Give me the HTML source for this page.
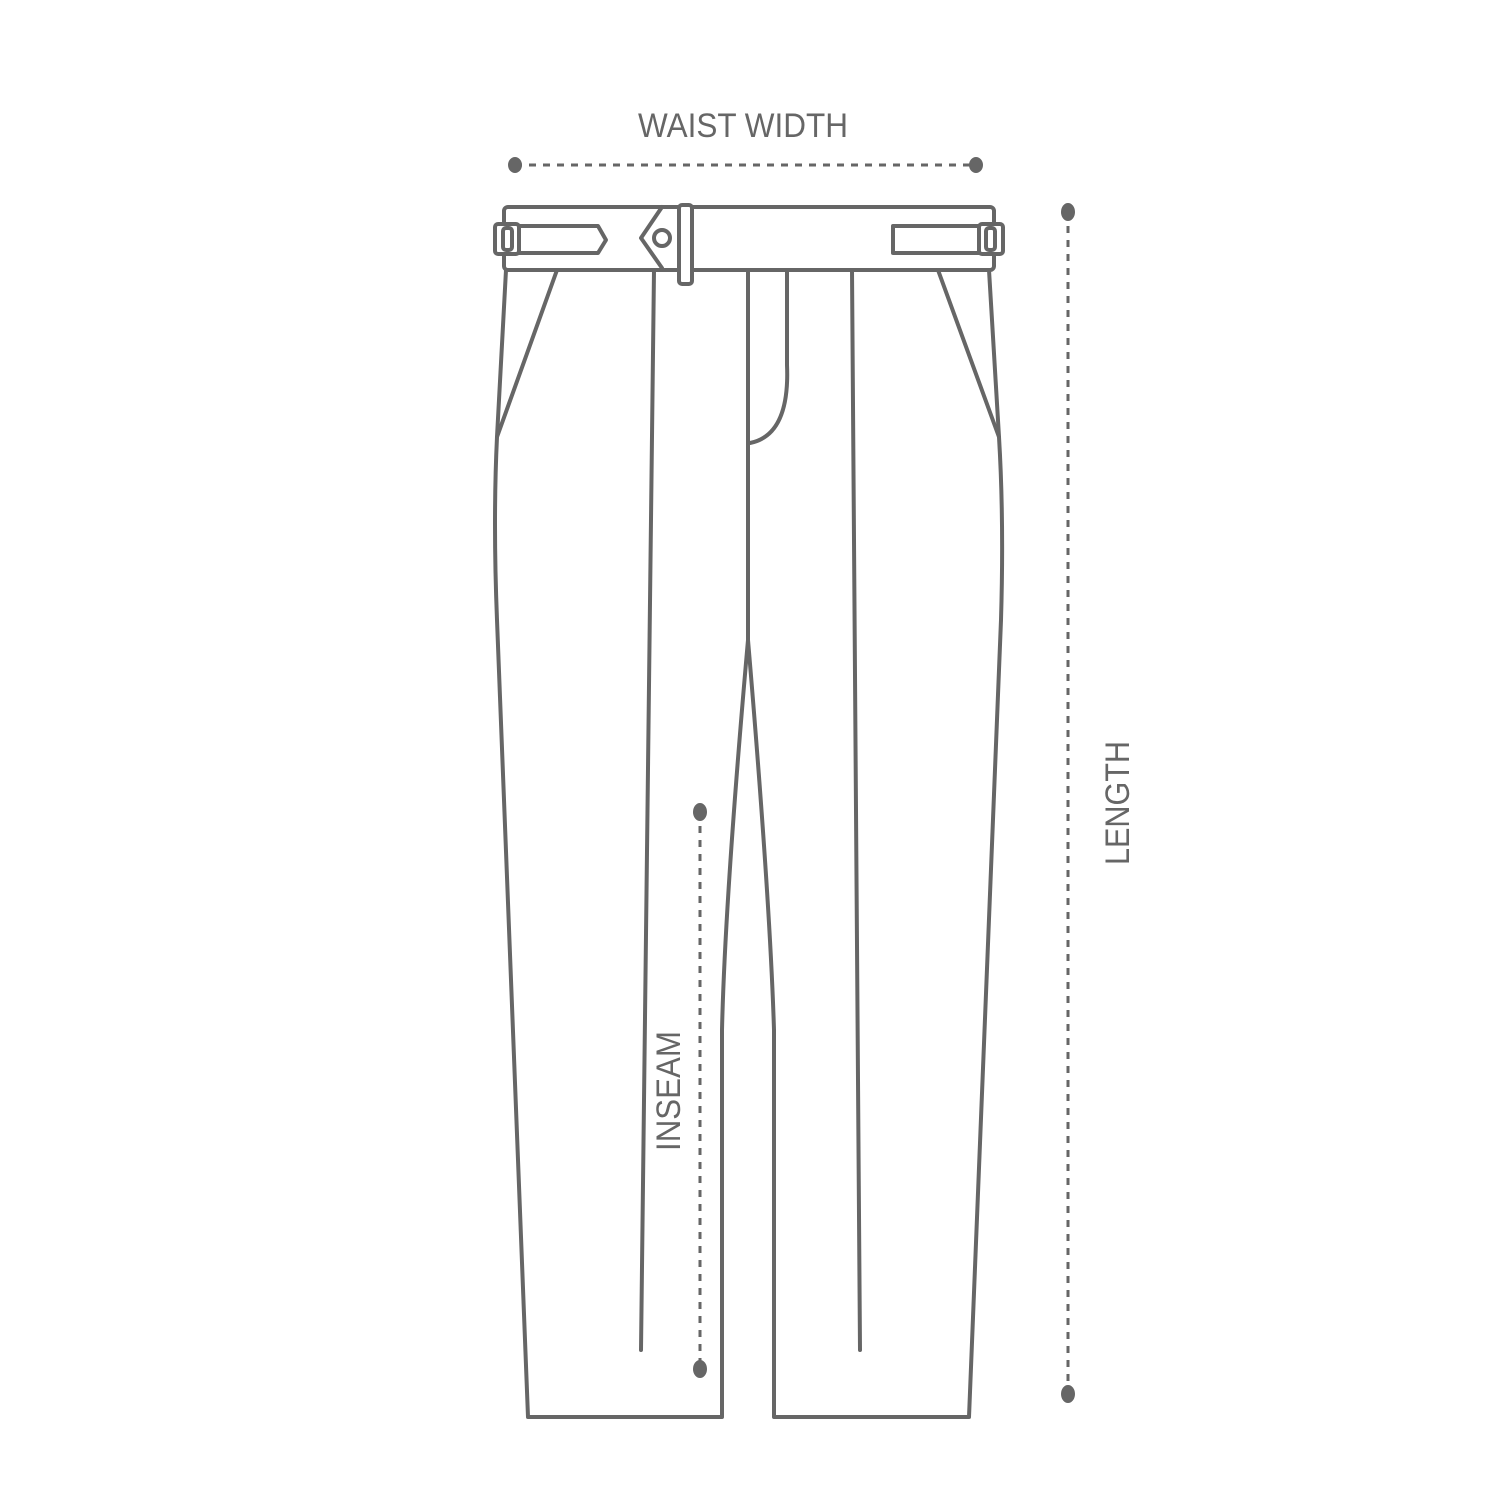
<!DOCTYPE html>
<html><head><meta charset="utf-8"><style>html,body{margin:0;padding:0;background:#fff}svg{display:block}</style></head>
<body>
<svg width="1500" height="1500" viewBox="0 0 1500 1500" xmlns="http://www.w3.org/2000/svg">
<g fill="none" stroke="#666" stroke-width="4" stroke-linejoin="round" stroke-linecap="round">
<!-- waistband -->
<rect x="504" y="207" width="490" height="63" rx="4"/>
<!-- left tab -->
<path d="M518 226 H598 L606 240 L598 253 H518 Z" fill="#fff"/>
<rect x="495" y="224" width="24" height="30" rx="3" fill="#fff"/>
<rect x="503" y="228" width="9" height="22" rx="3"/>
<!-- right tab -->
<path d="M893 226 H982 V253 H893 Z" fill="#fff"/>
<rect x="979" y="224" width="24" height="30" rx="3" fill="#fff"/>
<rect x="986" y="228" width="9" height="22" rx="3"/>
<!-- center V and button -->
<path d="M662 207 L641 238 L662 268"/>
<circle cx="662" cy="238" r="8"/>
<rect x="679" y="205" width="13" height="79" rx="3" fill="#fff"/>
<!-- left leg -->
<path d="M506 270 L497 437 Q493 520 497 620 L528 1417 H722 V1030 Q725 900 748 640 V270"/>
<!-- right leg -->
<path d="M748 640 Q770 900 774 1030 V1417 H969 L1001 620 Q1004 520 999 437 L989 270"/>
<!-- pockets -->
<path d="M557 270 L497 437"/>
<path d="M938 270 L999 437"/>
<!-- creases -->
<path d="M654 270 L641 1350"/>
<path d="M852 270 L860 1350"/>
<!-- fly -->
<path d="M787 270 V365 Q790 435 750 443"/>
</g>
<!-- dimension lines -->
<g stroke="#666" stroke-width="3" stroke-dasharray="7 7" fill="none">
<line x1="515" y1="165" x2="976" y2="165"/>
<line x1="1068" y1="212" x2="1068" y2="1394"/>
<line x1="700" y1="812" x2="700" y2="1368"/>
</g>
<g fill="#666">
<ellipse cx="515" cy="165" rx="7" ry="8"/>
<ellipse cx="976" cy="165" rx="7" ry="8"/>
<ellipse cx="1068" cy="212" rx="7" ry="9"/>
<ellipse cx="1068" cy="1394" rx="7" ry="9"/>
<ellipse cx="700" cy="812" rx="7" ry="9"/>
<ellipse cx="700" cy="1369" rx="7" ry="9"/>
</g>
<g fill="#666" font-family="'Liberation Sans', sans-serif" font-size="34" text-anchor="middle">
<text x="743" y="137" textLength="210" lengthAdjust="spacingAndGlyphs">WAIST WIDTH</text>
<text transform="translate(1129 803) rotate(-90)" textLength="124" lengthAdjust="spacingAndGlyphs">LENGTH</text>
<text transform="translate(680 1091) rotate(-90)" textLength="120" lengthAdjust="spacingAndGlyphs">INSEAM</text>
</g>
</svg>
</body></html>
